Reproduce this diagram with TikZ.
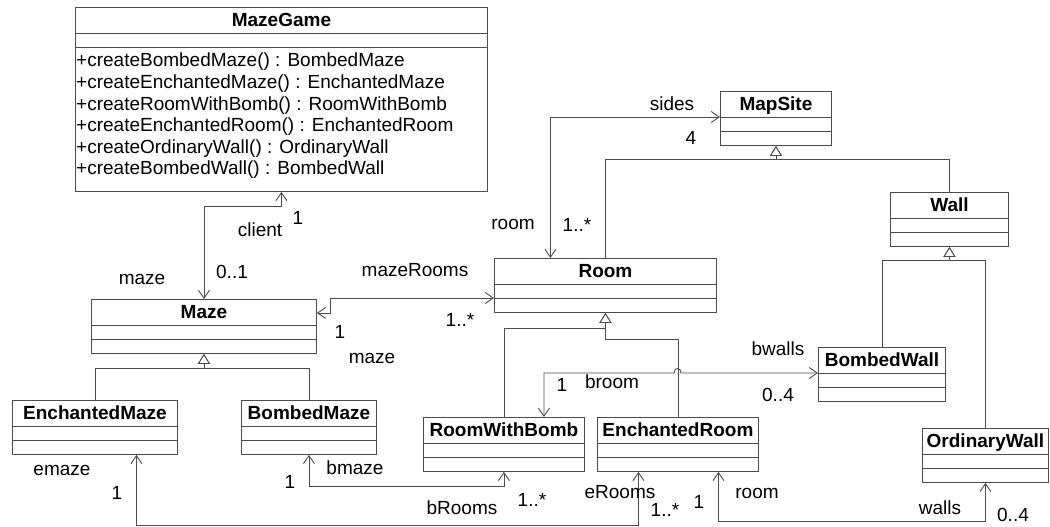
\documentclass[tikz,border=0pt]{standalone}
\usepackage{fontspec}
\setmainfont{Liberation Sans}
\usetikzlibrary{arrows.meta}

\tikzset{
  classbox/.style={draw=black!70, line width=0.9pt, minimum height=54, inner sep=0pt, anchor=north west},
  classtitle/.style={font=\bfseries, text height=0.72em, text depth=0pt, inner sep=0pt},
  lbl/.style={text height=0.72em, text depth=0pt, inner sep=0pt},
  optext/.style={lbl, anchor=west},
  sepline/.style={draw=black!70, line width=0.9pt},
  assoc/.style={sepline, <->},
  gen/.style={sepline, -{Triangle[open,fill=white,length=10pt,width=12pt]}},
}

\begin{document}
\fontsize{19}{21.5}\selectfont
\begin{tikzpicture}[x=1pt, y=-1pt, >={Straight Barb[length=8pt,width=11pt]}]
  \useasboundingbox (0,0) rectangle (1050,527);

  % the factory class
  \node[classbox, minimum width=412, minimum height=184] (game) at (75,7) {};
  \node[classtitle] (game-t) at ([yshift=-13pt]game.north) {MazeGame};
  \draw[sepline] ([yshift=-26pt]game.north west) -- ([yshift=-26pt]game.north east);
  \draw[sepline] ([yshift=-40pt]game.north west) -- ([yshift=-40pt]game.north east);
  \foreach \op [count=\i] in {+createBombedMaze() : BombedMaze, +createEnchantedMaze() : EnchantedMaze,
      +createRoomWithBomb() : RoomWithBomb, +createEnchantedRoom() : EnchantedRoom,
      +createOrdinaryWall() : OrdinaryWall, +createBombedWall() : BombedWall} {
    \node[optext] (op\i) at (76,{38.4+21.6*\i}) {\op};
  }

  % the other classes
  \foreach \cls/\px/\py/\w/\lab in {mapsite/720/91/111/MapSite, wall/890/192/118/Wall,
      room/494/258/222/Room, maze/91/299/225/Maze, bwall/818/347/127/BombedWall,
      emaze/12/400/165/EnchantedMaze, bmaze/241/400/135/BombedMaze,
      rwb/423/417/161/RoomWithBomb, eroom/597/417/161/EnchantedRoom,
      owall/922/428/126/OrdinaryWall} {
    \node[classbox, minimum width=\w] (\cls) at (\px,\py) {};
    \node[classtitle] (\cls-t) at ([yshift=-13pt]\cls.north) {\lab};
    \draw[sepline] ([yshift=-26pt]\cls.north west) -- ([yshift=-26pt]\cls.north east);
    \draw[sepline] ([yshift=-40pt]\cls.north west) -- ([yshift=-40pt]\cls.north east);
  }

  % generalizations
  \draw[gen] (room.north) -- ++(0,-99) -| (mapsite.south);
  \draw[gen] (wall.north) -- ++(0,-33) -| (mapsite.south);
  \draw[gen] (bwall.north) -- ++(0,-87) -| (wall.south);
  \draw[gen] (owall.north) -- ++(0,-168) -| (wall.south);
  \draw[gen] (rwb.north) -- ++(0,-89) -| (room.south);
  \draw[gen] (eroom.north) -- ++(0,-78) -| (room.south);
  \draw[gen] (emaze.north) -- ++(0,-32) -| (maze.south);
  \draw[gen] (bmaze.north) -- ++(0,-32) -| (maze.south);

  % associations
  \draw[assoc] (game.south) -- ++(0,15) -| (maze.north);
  \draw[assoc] ([yshift=-14pt]maze.north east) -- ++(14,0) |- ([yshift=-40pt]room.north west);
  \draw[assoc] ([xshift=-55pt]room.north) |- ([yshift=-26pt]mapsite.north west);
  \draw[assoc] ([xshift=40pt]rwb.north) -- ++(0,-44) -- (674,373)
    .. controls (674,367) and (681,367) .. (681,373) -- ([yshift=-26pt]bwall.north west);
  \draw[assoc] ([xshift=41.5pt]emaze.south) -- ++(0,71) -| ([xshift=-39.5pt]eroom.south);
  \draw[assoc] (bmaze.south) -- ++(0,32) -| (rwb.south);
  \draw[assoc] ([xshift=40.5pt]eroom.south) -- ++(0,50) -| (owall.south);

  % role names and multiplicities
  \foreach \p/\lab [count=\i] in {(260,230)/client, (298,218)/1, (232,272)/0..1, (142,278)/maze,
      (415,270)/mazeRooms, (460,320)/1..*, (340,332)/1, (372,357)/maze,
      (672,104)/sides, (691,138)/4, (513,223)/room, (577,225)/1..*,
      (778,349)/bwalls, (778,395)/0..4, (562,385)/1, (612,382)/broom,
      (62,469)/emaze, (117,493)/1, (620,492)/eRooms, (665,510)/1..*,
      (355,468)/bmaze, (290,482)/1, (462,508)/bRooms, (532,500)/1..*,
      (757,492)/room, (699,502)/1, (940,508)/walls, (1013,515)/0..4} {
    \node[lbl] (l\i) at \p {\lab};
  }
\end{tikzpicture}
\end{document}
